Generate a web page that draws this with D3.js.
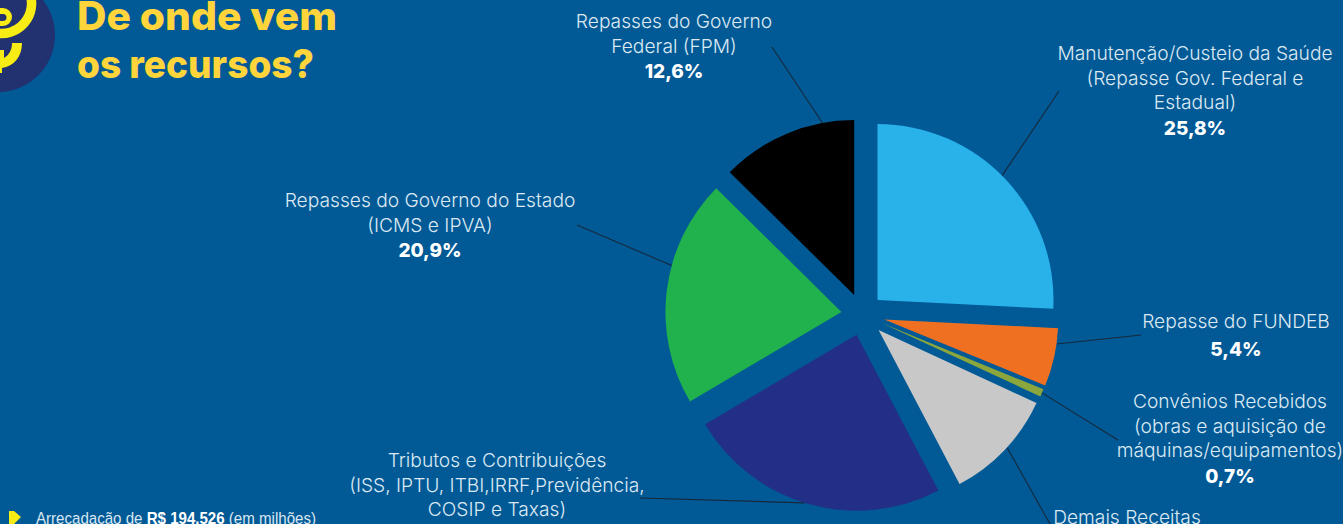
<!DOCTYPE html>
<html><head><meta charset="utf-8">
<script src="https://cdn.jsdelivr.net/npm/d3@7"></script>
<style>html,body{margin:0;padding:0;background:#015a96;overflow:hidden}svg{display:block}</style>
</head><body><svg id="c" width="1343" height="524"></svg>
<script>
const categories=["Manutenção/Custeio da Saúde","Repasse do FUNDEB","Convênios Recebidos","Demais Receitas","Tributos e Contribuições","Repasses do Governo do Estado","Repasses do Governo Federal (FPM)"];
const values=[25.8,5.4,0.7,10.4,24.2,20.9,12.6];
const valueLabels=["25,8%","5,4%","0,7%","10,4%","24,2%","20,9%","12,6%"];
const colors=["#29b1ea","#f07022","#8aa63c","#c8c8c8","#232f86","#21b14d","#000000"];
const labelLines=[["Manutenção/Custeio da Saúde","(Repasse Gov. Federal e","Estadual)"],["Repasse do FUNDEB"],["Convênios Recebidos","(obras e aquisição de","máquinas/equipamentos)"],["Demais Receitas"],["Tributos e Contribuições","(ISS, IPTU, ITBI,IRRF,Previdência,","COSIP e Taxas)"],["Repasses do Governo do Estado","(ICMS e IPVA)"],["Repasses do Governo","Federal (FPM)"]];
const titleLines=["De onde vem","os recursos?"];
const titleWidths=[260,237];

const svg=d3.select("#c");
const W=1343,H=524,cx=862.3,cy=314.5,explode=21;
const labelX=[1195,1236,1230,1127,497,430,674];
const labelY=[60,328,408,524,467,207,28];
const leaderEnd=[[1059,91],[1141,335],[1118,440],[1050,524],[640,498],[577,225],[772,47]];
const leaderFrac=[.485,.27,.5,.47,.515,.61,.77];
const radii=[176,174,175,174,176,176,175];
const extraExplode=[0,1.5,0,1.5,0,0,0];

svg.append("rect").attr("width",W).attr("height",H).attr("fill","#015a96");

// icon
const ic=svg.append("g");
ic.append("circle").attr("cx",-2).attr("cy",35).attr("r",57).attr("fill","#22316f");
ic.append("path").attr("d","M30,-6 A30,30 0 0 1 -4,33").attr("fill","none").attr("stroke","#f7ec13").attr("stroke-width",9.5);
ic.append("path").attr("d","M-2,8 H3 A9,9 0 0 1 3,26 H-2 V21 H3 A3,3 0 0 0 3,14 H-2Z").attr("fill","#f7ec13");
ic.append("path").attr("d","M12,43 H22 C22,57 14,66 2,68 V73 H-2 V50 H4 V58 C9,55 12,50 12,43Z").attr("fill","#f7ec13");

// title
svg.append("g").selectAll("text").data(titleLines).join("text")
 .attr("x",77).attr("y",(d,i)=>30+i*48).attr("fill","#ffd53b")
 .attr("font-family","Inter, Lato, sans-serif").attr("font-weight",800).attr("font-size",39)
 .attr("textLength",(d,i)=>titleWidths[i]).attr("lengthAdjust","spacingAndGlyphs").text(d=>d);

// pie
const pie=d3.pie().sort(null).value(d=>d);
const arcs=pie(values);
const arc=d3.arc().innerRadius(0);
const off=(d,i)=>{const m=(d.startAngle+d.endAngle)/2,e=explode+extraExplode[i];return [cx+e*Math.sin(m),cy-e*Math.cos(m)];};

// leaders
svg.append("g").selectAll("line").data(arcs).join("line")
 .attr("x1",(d,i)=>{const a=d.startAngle+(d.endAngle-d.startAngle)*leaderFrac[i];return off(d,i)[0]+radii[i]*Math.sin(a);})
 .attr("y1",(d,i)=>{const a=d.startAngle+(d.endAngle-d.startAngle)*leaderFrac[i];return off(d,i)[1]-radii[i]*Math.cos(a);})
 .attr("x2",(d,i)=>leaderEnd[i][0]).attr("y2",(d,i)=>leaderEnd[i][1])
 .attr("stroke","#16283c").attr("stroke-width",1.1);

svg.append("g").selectAll("path").data(arcs).join("path")
 .attr("transform",(d,i)=>`translate(${off(d,i)})`)
 .attr("d",(d,i)=>arc.outerRadius(radii[i])(d)).attr("fill",(d,i)=>colors[i]);

// labels
const lh=24.6;
const lab=svg.append("g").attr("text-anchor","middle");
labelLines.forEach((lines,i)=>{
  lines.forEach((t,j)=>lab.append("text").attr("x",labelX[i]).attr("y",labelY[i]+j*lh)
    .attr("fill","#dce9f3").attr("font-family","Inter, Roboto, sans-serif").attr("font-weight",300).attr("font-size",19.2).text(t));
  const vy=labelY[i]+lines.length*lh+(lines.length>1?1:3);
  if(vy<H+10) lab.append("text").attr("x",labelX[i]).attr("y",vy)
    .attr("fill","#fff").attr("font-family","Inter, Roboto, sans-serif").attr("font-weight",800).attr("font-size",19).text(valueLabels[i]);
});

// footnote
svg.append("path").attr("d","M9,511 H14 L21,517 L14,524 H9Z").attr("fill","#f7ec13");
const ft=svg.append("text").attr("transform","translate(36,524) scale(.915,1)").attr("fill","#d9e7f2").attr("font-family","'Liberation Sans', sans-serif").attr("font-size",16.5);
ft.append("tspan").text("Arrecadação de ");
ft.append("tspan").attr("font-weight",700).attr("fill","#fff").text("R$ 194.526");
ft.append("tspan").text(" (em milhões)");
</script></body></html>
